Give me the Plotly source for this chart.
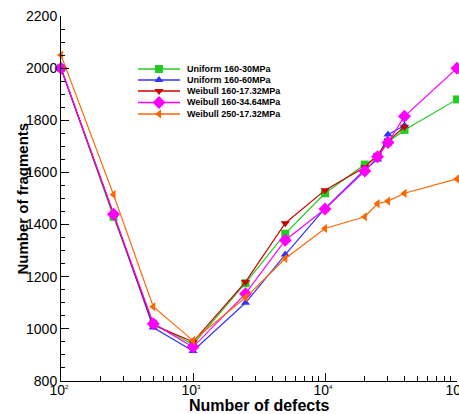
import plotly.graph_objects as go

defects = [100, 250, 500, 1000, 2500, 5000, 10000, 20000, 25000, 30000, 40000, 100000]
defects_short = [100, 250, 500, 1000, 2500, 5000, 10000, 20000, 25000, 30000, 40000]

uniform_30 = [2000, 1430, 1020, 940, 1175, 1365, 1520, 1630, 1660, 1717, 1763, 1880]
uniform_60 = [2000, 1440, 1005, 915, 1100, 1285, 1462, 1610, 1650, 1745, 1780]
weibull_160_17 = [2000, 1440, 1015, 950, 1180, 1405, 1532, 1620, 1667, 1720, 1775]
weibull_160_34 = [2000, 1440, 1020, 930, 1135, 1340, 1460, 1605, 1660, 1715, 1815, 2000]
weibull_250_17 = [2050, 1515, 1085, 955, 1120, 1270, 1385, 1430, 1480, 1490, 1520, 1575]

names = ["Uniform 160-30MPa", "Uniform 160-60MPa", "Weibull 160-17.32MPa",
         "Weibull 160-34.64MPa", "Weibull 250-17.32MPa"]

x_tick_vals = [100, 1000, 10000, 100000]
x_tick_exps = ["2", "3", "4", "5"]

series = [
    (defects, uniform_30, "#22cc22", "square", 8),
    (defects_short, uniform_60, "#3333ff", "triangle-up", 8),
    (defects_short, weibull_160_17, "#cc0000", "triangle-down", 8),
    (defects, weibull_160_34, "#ff00ff", "diamond", 10),
    (defects, weibull_250_17, "#ff6600", "triangle-left", 8),
]

W, H = 459, 414
# plot area in pixels
L, R, T, B = 61, 457, 16, 381

def px_x(X):
    return (X - L) / (R - L)

def px_y(Y):
    return (B - Y) / (B - T)

# legend layout (pixel positions)
leg_x0, leg_x1, leg_text_x = 138, 180, 185
leg_rows = [69, 80, 91, 102.5, 114]

font_family = "Liberation Sans, Arial, sans-serif"

fig = go.Figure()
for name, (xs, ys, col, sym, sz) in zip(names, series):
    fig.add_trace(go.Scatter(
        x=xs, y=ys, name=name, mode="lines+markers", showlegend=False,
        line=dict(color=col, width=1.2),
        marker=dict(symbol=sym, size=sz, color=col),
        cliponaxis=False,
    ))

annotations = []
for name, (xs, ys, col, sym, sz), ry in zip(names, series, leg_rows):
    yy = px_y(ry)
    fig.add_trace(go.Scatter(
        x=[px_x(leg_x0), px_x(leg_x1)], y=[yy, yy], xaxis="x2", yaxis="y2",
        mode="lines", line=dict(color=col, width=1.5), showlegend=False,
        hoverinfo="skip",
    ))
    fig.add_trace(go.Scatter(
        x=[px_x((leg_x0 + leg_x1) / 2)], y=[yy], xaxis="x2", yaxis="y2",
        mode="markers", marker=dict(symbol=sym, size=sz, color=col),
        showlegend=False, hoverinfo="skip",
    ))
    annotations.append(dict(
        text="<b>" + name + "</b>", xref="paper", yref="paper",
        x=px_x(leg_text_x), y=yy, xanchor="left", yanchor="middle",
        showarrow=False, font=dict(size=9, family=font_family, color="black"),
    ))

annotations += [
    dict(text="<b>Number of defects</b>", xref="paper", yref="paper",
         x=0.5, y=0, yanchor="top", yshift=-14, showarrow=False,
         font=dict(size=16, family=font_family)),
    dict(text="<b>Number of fragments</b>", xref="paper", yref="paper",
         x=0, y=0.5, xanchor="center", yanchor="middle", xshift=-39,
         textangle=-90, showarrow=False,
         font=dict(size=15, family=font_family)),
]

x_tick_text = ["10<sup><span style='font-size:6px'>" + e + "</span></sup>" for e in x_tick_exps]

fig.update_layout(
    width=W, height=H,
    margin=dict(l=L, r=W - R, t=T, b=H - B, autoexpand=False),
    paper_bgcolor="white", plot_bgcolor="white",
    font=dict(family=font_family, color="black", size=13),
    showlegend=False,
    xaxis=dict(
        type="log", range=[2, 5.0],
        tickmode="array", tickvals=x_tick_vals, ticktext=x_tick_text,
        showline=True, linecolor="black", linewidth=1, mirror=False,
        ticks="inside", ticklen=8, tickcolor="black",
        showgrid=False, zeroline=False, automargin=False,
        ticklabeloverflow="allow", ticklabelstandoff=-4, ticklabelshift=-2,
        minor=dict(ticks="inside", ticklen=5, tickcolor="black", showgrid=False,
                   tickmode="array",
                   tickvals=[m * d for d in (100, 1000, 10000) for m in range(2, 10)]),
        tickfont=dict(size=14),
    ),
    yaxis=dict(
        range=[800, 2200], dtick=200, tick0=800,
        showline=True, linecolor="black", linewidth=1, mirror=False,
        ticks="inside", ticklen=8, tickcolor="black",
        showgrid=False, zeroline=False, automargin=False,
        ticklabeloverflow="allow",
        minor=dict(ticks="inside", ticklen=4, dtick=50, tickcolor="black", showgrid=False),
        tickfont=dict(size=14),
    ),
    xaxis2=dict(overlaying="x", range=[0, 1], visible=False, fixedrange=True),
    yaxis2=dict(overlaying="y", range=[0, 1], visible=False, fixedrange=True),
    annotations=annotations,
)

fig.write_html(
    "out.html",
    config={"displayModeBar": False},
    post_script="document.body.style.margin='0';document.body.style.overflow='hidden';",
)
